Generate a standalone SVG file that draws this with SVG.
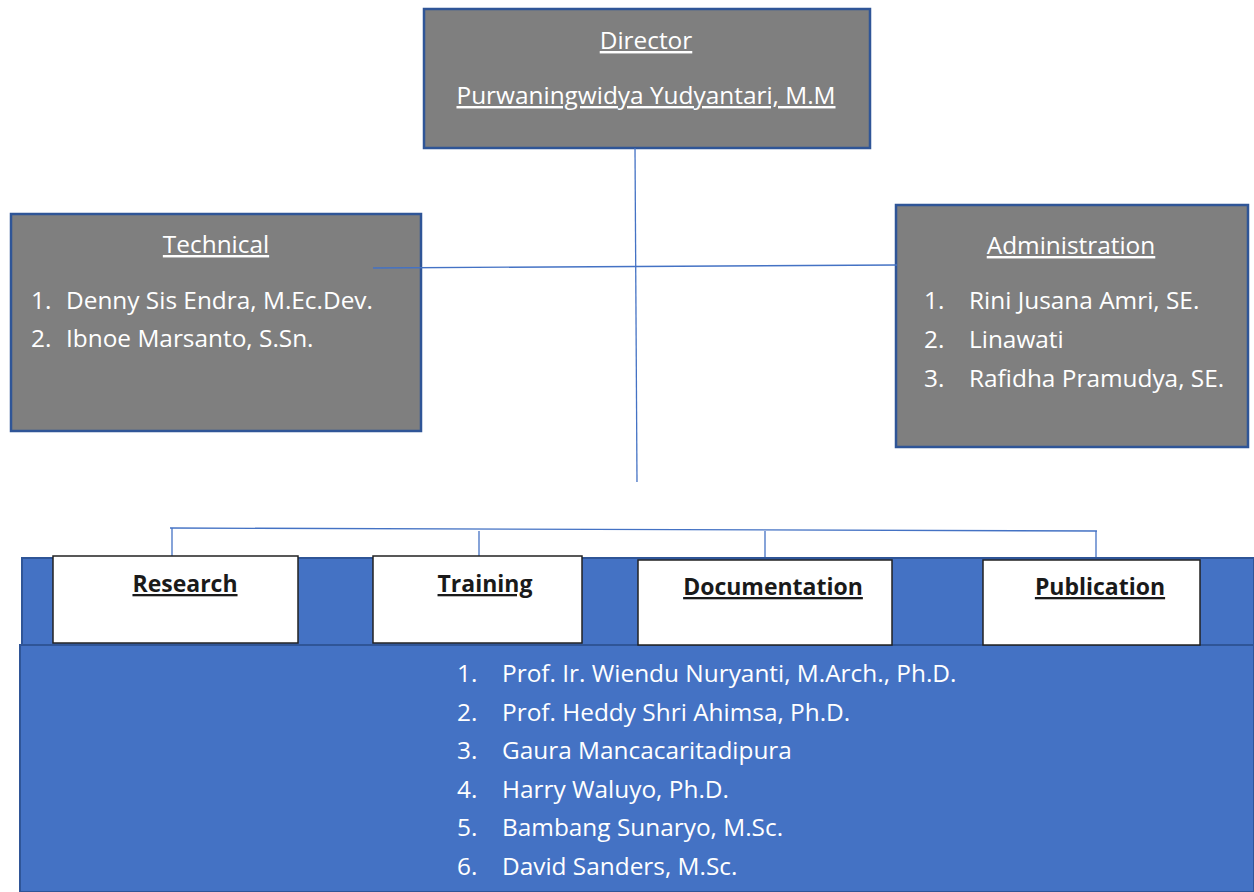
<svg xmlns="http://www.w3.org/2000/svg" width="1254" height="892" viewBox="0 0 1254 892">
<style>
.t{font-family:"Open Sans","Liberation Sans",Arial,sans-serif;font-size:24.4px;fill:#ffffff}
.u{text-decoration:underline}
.h{font-family:"Open Sans","Liberation Sans",Arial,sans-serif;font-size:23px;font-weight:bold;fill:#1a1a1a;text-decoration:underline}
.gray{fill:#7f7f7f;stroke:#2f5597;stroke-width:2.5}
.wbox{fill:#ffffff;stroke:#222222;stroke-width:1.5}
.conn{stroke:#4472c4;stroke-width:1.3;fill:none}
</style>
<rect width="1254" height="892" fill="#ffffff"/>
<g id="director">
<rect class="gray" x="424" y="9" width="446" height="139"/>
<text class="t u" x="646" y="49" text-anchor="middle">Director</text>
<text class="t u" x="646" y="104" text-anchor="middle">Purwaningwidya Yudyantari, M.M</text>
</g>
<g id="technical">
<rect class="gray" x="11" y="214" width="410" height="217"/>
<text class="t u" x="216" y="253" text-anchor="middle">Technical</text>
<text class="t" x="31" y="309">1.</text><text class="t" x="66" y="309">Denny Sis Endra, M.Ec.Dev.</text>
<text class="t" x="31" y="347">2.</text><text class="t" x="66" y="347">Ibnoe Marsanto, S.Sn.</text>
</g>
<g id="administration">
<rect class="gray" x="896" y="205" width="352" height="242"/>
<text class="t u" x="1071" y="254" text-anchor="middle">Administration</text>
<text class="t" x="924" y="309">1.</text><text class="t" x="969" y="309">Rini Jusana Amri, SE.</text>
<text class="t" x="924" y="348">2.</text><text class="t" x="969" y="348">Linawati</text>
<text class="t" x="924" y="387">3.</text><text class="t" x="969" y="387">Rafidha Pramudya, SE.</text>
</g>
<g id="connectors">
<line class="conn" x1="635" y1="148" x2="637" y2="482"/>
<line class="conn" x1="373" y1="268" x2="897" y2="265"/>
<line class="conn" x1="170" y1="528" x2="1097" y2="531"/>
<line class="conn" x1="172" y1="528" x2="172" y2="556"/>
<line class="conn" x1="479" y1="531" x2="479" y2="556"/>
<line class="conn" x1="765" y1="531" x2="765" y2="560"/>
<line class="conn" x1="1096" y1="531" x2="1096" y2="560"/>
</g>
<g id="team">
<rect x="22" y="558" width="1232" height="87" fill="#4472c4" stroke="#2f5597" stroke-width="2"/>
<rect x="20" y="645" width="1234" height="247" fill="#4472c4" stroke="#2f5597" stroke-width="2"/>
<text class="t" x="457" y="682">1.</text><text class="t" x="502" y="682">Prof. Ir. Wiendu Nuryanti, M.Arch., Ph.D.</text>
<text class="t" x="457" y="721">2.</text><text class="t" x="502" y="721">Prof. Heddy Shri Ahimsa, Ph.D.</text>
<text class="t" x="457" y="759">3.</text><text class="t" x="502" y="759">Gaura Mancacaritadipura</text>
<text class="t" x="457" y="798">4.</text><text class="t" x="502" y="798">Harry Waluyo, Ph.D.</text>
<text class="t" x="457" y="836">5.</text><text class="t" x="502" y="836">Bambang Sunaryo, M.Sc.</text>
<text class="t" x="457" y="875">6.</text><text class="t" x="502" y="875">David Sanders, M.Sc.</text>
</g>
<g id="research">
<rect class="wbox" x="53" y="556" width="245" height="87"/>
<text class="h" x="185" y="592" text-anchor="middle">Research</text>
</g>
<g id="training">
<rect class="wbox" x="373" y="556" width="209" height="87"/>
<text class="h" x="485" y="592" text-anchor="middle">Training</text>
</g>
<g id="documentation">
<rect class="wbox" x="638" y="560" width="254" height="85"/>
<text class="h" x="773" y="595" text-anchor="middle">Documentation</text>
</g>
<g id="publication">
<rect class="wbox" x="983" y="560" width="217" height="85"/>
<text class="h" x="1100" y="595" text-anchor="middle">Publication</text>
</g>
</svg>
